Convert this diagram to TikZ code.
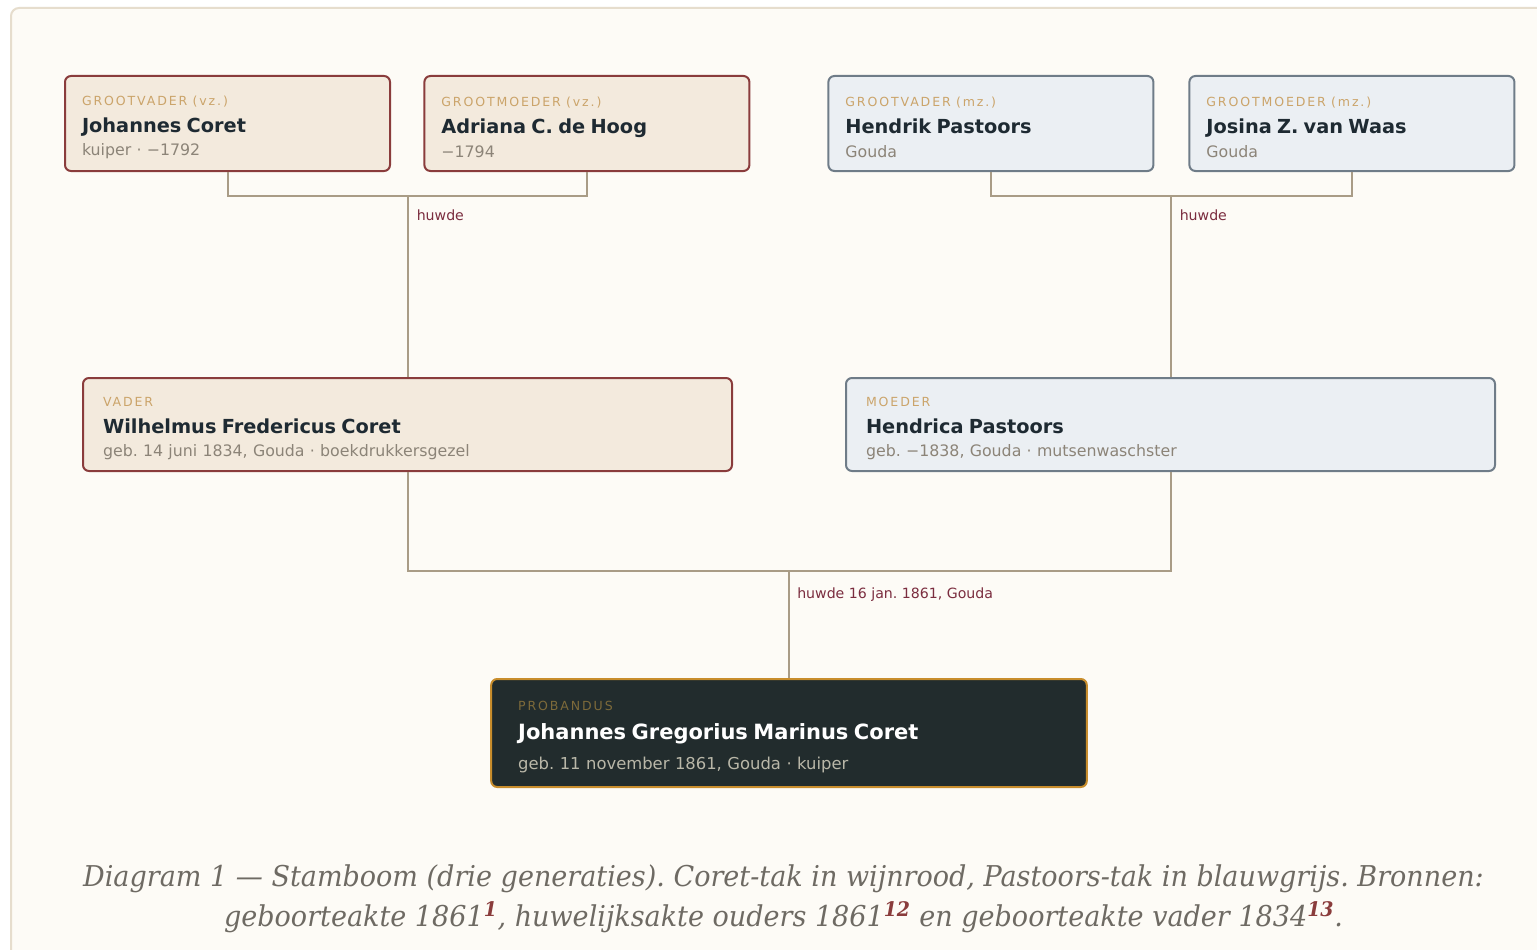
\documentclass[tikz,border=0pt]{standalone}
\usepackage{fontspec}
\setmainfont{DejaVu Sans}
\newfontfamily\kopfont[LetterSpace=15]{DejaVu Sans}
\newfontfamily\bijschriftfont[FakeStretch=0.943]{DejaVu Serif}
\usetikzlibrary{positioning,calc}
\frenchspacing

\definecolor{papier}{HTML}{FDFBF6}
\definecolor{kader}{HTML}{E6DDCD}
\definecolor{wijn}{HTML}{8A3C3C}
\definecolor{wijnvul}{HTML}{F3EADD}
\definecolor{blauwgrijs}{HTML}{6F7C88}
\definecolor{grijsvul}{HTML}{EBEFF3}
\definecolor{nacht}{HTML}{222C2D}
\definecolor{goud}{HTML}{C88D2C}
\definecolor{kop}{HTML}{CBA46A}
\definecolor{kopdonker}{HTML}{7D6A3A}
\definecolor{inkt}{HTML}{1E2A32}
\definecolor{grijs}{HTML}{8C8478}
\definecolor{lichtgrijs}{HTML}{B9B7A8}
\definecolor{lijnkl}{HTML}{A99C86}
\definecolor{huwrood}{HTML}{7B2D3F}
\definecolor{capkl}{HTML}{6E6A63}

% kop / naam / regel in een kaart
\newcommand{\persoon}[4][2.8pt]{{\kopfont\fontsize{9.4}{10}\selectfont\color{kop}\rule{0pt}{13pt}#2}\\[#1]%
  {\bfseries\fontsize{14.5}{10}\selectfont\color{inkt}#3}\\%
  {\fontsize{11.85}{10}\selectfont\color{grijs}#4}}
\newcommand{\bron}[1]{\textsuperscript{\bfseries\color{wijn}#1}}

\begin{document}
\begin{tikzpicture}[
  x=0.75pt, y=-0.75pt,
  kaart/.style={rectangle,rounded corners=4.5pt,line width=1.5pt,align=left,inner ysep=0pt,
    font=\fontsize{11.85}{17.6}\selectfont},
  grootouder/.style={text width=218.25pt,inner xsep=12.75pt,minimum height=71.25pt},
  ouder/.style={text width=456.75pt,inner xsep=15pt,minimum height=69.75pt},
  coret/.style={kaart,draw=wijn,fill=wijnvul},
  pastoors/.style={kaart,draw=blauwgrijs,fill=grijsvul},
  proband/.style={kaart,draw=goud,fill=nacht,text width=406.2pt,inner xsep=20.25pt,minimum height=81pt,
    font=\fontsize{12.3}{22.5}\selectfont},
  lijn/.style={draw=lijnkl,line width=1.5pt},
  huwde/.style={inner sep=0pt,text=huwrood,font=\fontsize{10.6}{12}\selectfont},
  bijschrift/.style={align=center,text=capkl,font=\bijschriftfont\itshape\fontsize{21.5}{30}\selectfont}]
\useasboundingbox (0,0) rectangle (1537,949);
\fill[white] (0,0) rectangle (1537,949);
\draw[kader,line width=1.5pt,fill=papier,rounded corners=6pt] (11,8) rectangle (1580,990);

% grootouders
\node[coret,grootouder] (gvv) at (227.5,123.5) {\persoon{GROOTVADER (vz.)}{Johannes Coret}{kuiper · −1792}};
\node[coret,grootouder,right=24.3pt of gvv] (gmv) {\persoon{GROOTMOEDER (vz.)}{Adriana C. de Hoog}{−1794}};
\node[pastoors,grootouder,right=57.75pt of gmv] (gvm) {\persoon{GROOTVADER (mz.)}{Hendrik Pastoors}{Gouda}};
\node[pastoors,grootouder,right=25.5pt of gvm] (gmm) {\persoon{GROOTMOEDER (mz.)}{Josina Z. van Waas}{Gouda}};

% ouders
\node[coret,ouder] (vader) at (407.5,424.5) {\persoon{VADER}{Wilhelmus Fredericus Coret}{geb. 14 juni 1834, Gouda · boekdrukkersgezel}};
\node[pastoors,ouder,right=84pt of vader] (moeder) {\persoon{MOEDER}{Hendrica Pastoors}{geb. −1838, Gouda · mutsenwaschster}};

% probandus
\node[proband] (jgm) at (789,733) {{\kopfont\fontsize{9.4}{10}\selectfont\color{kopdonker}\rule{0pt}{13pt}PROBANDUS}\\[-1pt]%
  {\bfseries\fontsize{15.75}{10}\selectfont\color{white}Johannes Gregorius Marinus Coret}\\%
  {\color{lichtgrijs}geb. 11 november 1861, Gouda · kuiper}};

% huwelijkslijnen
\draw[lijn] (gvv.south) -- ++(0,24) coordinate (hvz) -| (gmv.south);
\draw[lijn] (hvz -| vader.north) -- (vader.north);
\node[huwde,anchor=base west] (huwvz) at ($(hvz -| vader.north)+(9,24)$) {huwde};
\draw[lijn] (gvm.south) -- ++(0,24) coordinate (hmz) -| (gmm.south);
\draw[lijn] (hmz -| moeder.north) -- (moeder.north);
\node[huwde,anchor=base west] (huwmz) at ($(hmz -| moeder.north)+(9,24)$) {huwde};
\draw[lijn] (vader.south) -- ++(0,99) coordinate (hou) -| (moeder.south);
\draw[lijn] (hou -| jgm.north) -- (jgm.north);
\node[huwde,anchor=base west] (huwou) at ($(hou -| jgm.north)+(8,27)$) {huwde 16 jan. 1861, Gouda};

\node[bijschrift] (onderschrift) at (783.5,899) {Diagram 1 — Stamboom (drie generaties). Coret-tak in wijnrood, Pastoors-tak in blauwgrijs. Bronnen:\\
  geboorteakte 1861\bron{1}, huwelijksakte ouders 1861\bron{12} en geboorteakte vader 1834\bron{13}.};
\end{tikzpicture}
\end{document}
